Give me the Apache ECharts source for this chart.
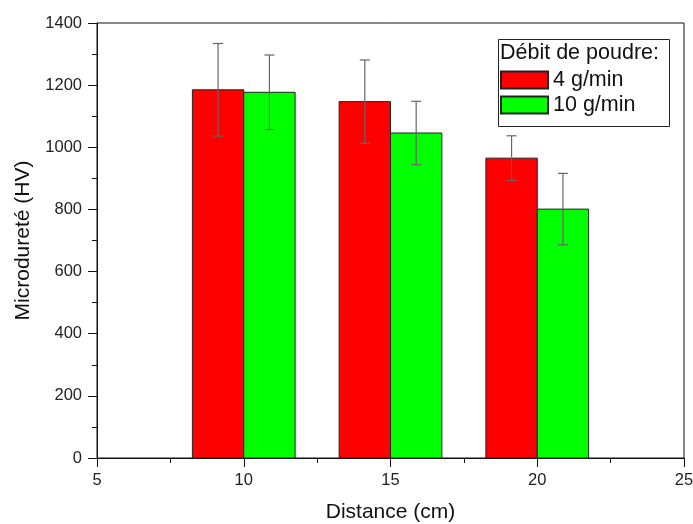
<!DOCTYPE html>
<html>
<head>
<meta charset="utf-8">
<script src="https://cdn.jsdelivr.net/npm/echarts@6/dist/echarts.min.js"></script>
<style>
  html, body { margin: 0; padding: 0; background: #fff; }
  #chart { width: 693px; height: 524px; }
</style>
</head>
<body>
<div id="chart"></div>
<script>
// distances (cm)
const distances = [10, 15, 20];
// microhardness, 4 g/min
const hv4 = [1185, 1147, 965];
const err4 = [149, 134, 72];
// microhardness, 10 g/min
const hv10 = [1177, 1046, 801];
const err10 = [120, 102, 115];

const barSpan = 1.75; // bar width in x units

const chart = echarts.init(document.getElementById("chart"));

// bars drawn on the value axis
function barRender(side) {
  return function (params, api) {
    const x = api.value(0);
    const y = api.value(1);
    const x0 = side < 0 ? x - barSpan : x;
    const p0 = api.coord([x0, y]);
    const p1 = api.coord([x0 + barSpan, 0]);
    return {
      type: "rect",
      shape: { x: p0[0], y: p0[1], width: p1[0] - p0[0], height: p1[1] - p0[1] },
      style: { fill: api.visual("color"), stroke: "#222", lineWidth: 1 },
    };
  };
}

// error bars at the bar centre
function errRender(side) {
  return function (params, api) {
    const x = api.value(0) + (side * barSpan) / 2;
    const hi = api.coord([x, api.value(1) + api.value(2)]);
    const lo = api.coord([x, api.value(1) - api.value(2)]);
    const cap = 5;
    const st = { stroke: "#666", lineWidth: 1.2 };
    return {
      type: "group",
      children: [
        { type: "line", shape: { x1: hi[0], y1: hi[1], x2: lo[0], y2: lo[1] }, style: st },
        { type: "line", shape: { x1: hi[0] - cap, y1: hi[1], x2: hi[0] + cap, y2: hi[1] }, style: st },
        { type: "line", shape: { x1: lo[0] - cap, y1: lo[1], x2: lo[0] + cap, y2: lo[1] }, style: st },
      ],
    };
  };
}

const font = "Liberation Sans, Arial, sans-serif";

const option = {
  animation: false,
  backgroundColor: "#fff",
  textStyle: { fontFamily: font },
  grid: {
    left: 97,
    right: 9,
    top: 23,
    bottom: 66,
    containLabel: false,
    outerBoundsMode: "none",
    show: true,
    borderColor: "#111",
    borderWidth: 1,
  },
  legend: {
    orient: "vertical",
    left: 496,
    top: 37,
    padding: [32, 4, 6, 4],
    itemWidth: 47,
    itemHeight: 17,
    itemGap: 3,
    icon: "rect",
    textStyle: { fontSize: 21.5, lineHeight: 22, color: "#111", fontFamily: font },
    data: ["4 g/min", "10 g/min"],
  },
  graphic: [
    {
      type: "rect",
      left: 496,
      top: 37,
      shape: { width: 171, height: 87 },
      style: { fill: "none", stroke: "#222", lineWidth: 1 },
      z: 1,
    },
    {
      type: "text",
      left: 500,
      top: 42,
      style: { text: "Débit de poudre:", fontSize: 21.5, fill: "#111", fontFamily: font },
      z: 2,
    },
  ],
  xAxis: {
    type: "value",
    min: 5,
    max: 25,
    interval: 5,
    name: "Distance (cm)",
    nameLocation: "middle",
    nameGap: 44,
    nameTextStyle: { fontSize: 21, color: "#111", fontFamily: font },
    axisLine: { lineStyle: { color: "#111", width: 1 } },
    axisTick: { length: 9, lineStyle: { color: "#111" } },
    minorTick: { show: true, splitNumber: 2, length: 5, lineStyle: { color: "#111" } },
    axisLabel: { fontSize: 16.5, color: "#222", margin: 14, fontFamily: font },
    splitLine: { show: false },
  },
  yAxis: {
    type: "value",
    min: 0,
    max: 1400,
    interval: 200,
    name: "Microdureté (HV)",
    nameLocation: "middle",
    nameGap: 63,
    nameTextStyle: { fontSize: 21, color: "#111", fontFamily: font },
    axisLine: { show: true, lineStyle: { color: "#111", width: 1 } },
    axisTick: { show: true, length: 9, lineStyle: { color: "#111" } },
    minorTick: { show: true, splitNumber: 2, length: 5, lineStyle: { color: "#111" } },
    axisLabel: {
      fontSize: 16.5,
      color: "#222",
      margin: 15,
      fontFamily: font,
      formatter: (v) => String(v),
    },
    splitLine: { show: false },
  },
  series: [
    {
      name: "4 g/min",
      type: "custom",
      renderItem: barRender(-1),
      itemStyle: { color: "#ff0000", borderColor: "#222", borderWidth: 1 },
      encode: { x: 0, y: 1 },
      data: distances.map((d, i) => [d, hv4[i]]),
      z: 2,
    },
    {
      name: "10 g/min",
      type: "custom",
      renderItem: barRender(1),
      itemStyle: { color: "#00ff00", borderColor: "#222", borderWidth: 1 },
      encode: { x: 0, y: 1 },
      data: distances.map((d, i) => [d, hv10[i]]),
      z: 2,
    },
    {
      type: "custom",
      renderItem: errRender(-1),
      encode: { x: 0, y: 1 },
      data: distances.map((d, i) => [d, hv4[i], err4[i]]),
      z: 3,
    },
    {
      type: "custom",
      renderItem: errRender(1),
      encode: { x: 0, y: 1 },
      data: distances.map((d, i) => [d, hv10[i], err10[i]]),
      z: 3,
    },
  ],
};

chart.setOption(option);
</script>
</body>
</html>
